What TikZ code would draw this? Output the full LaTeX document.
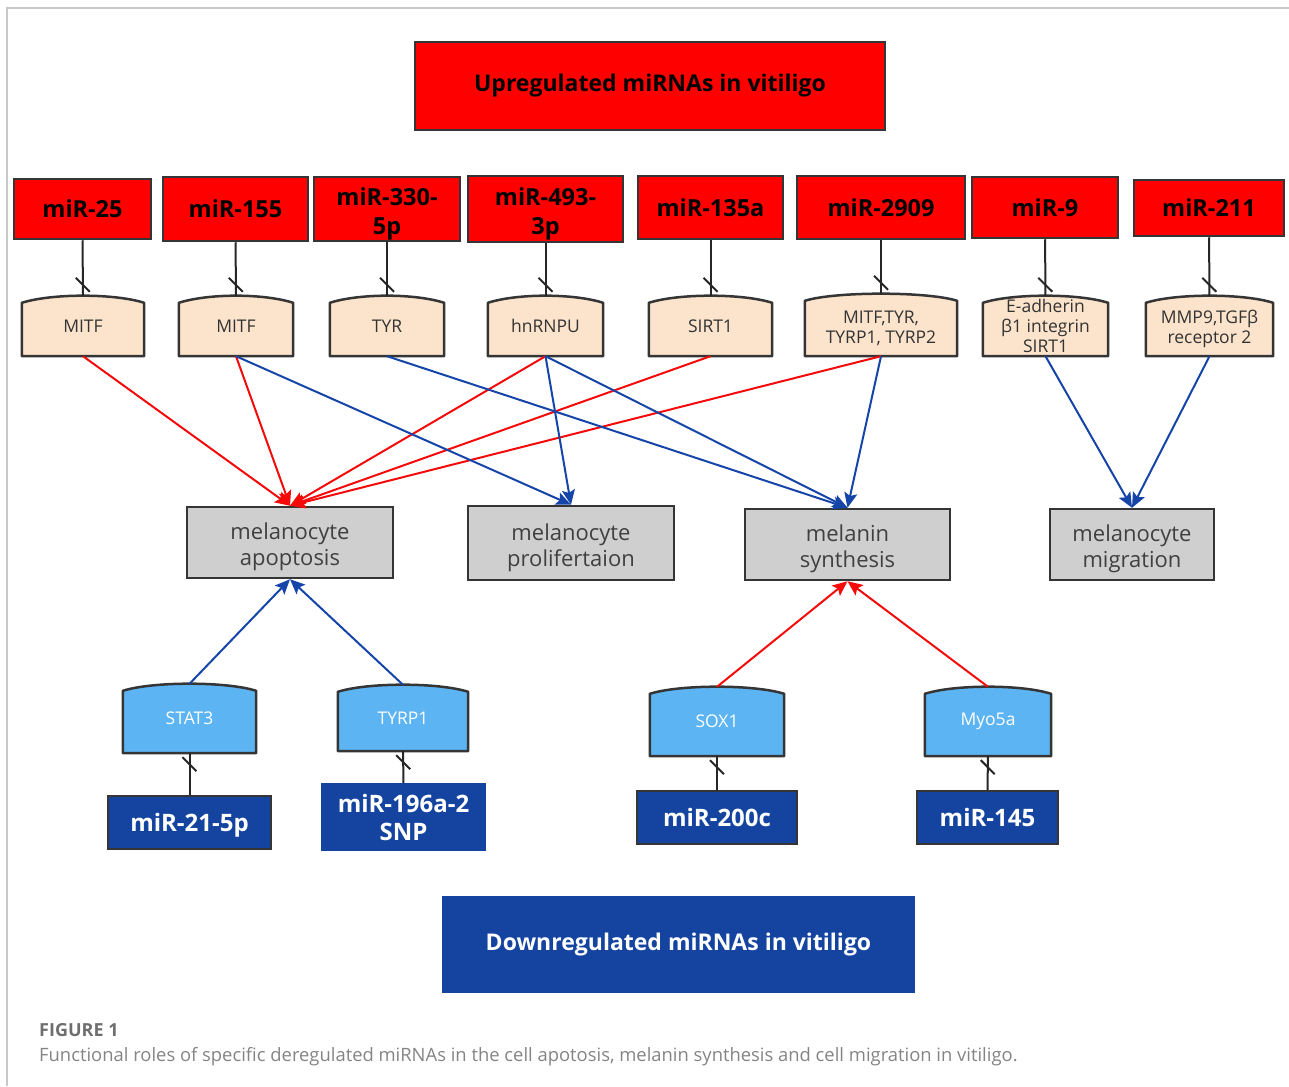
\documentclass[tikz,border=0pt]{standalone}
\usepackage{fontspec}
\setmainfont{Open Sans}
\usetikzlibrary{arrows.meta,backgrounds,calc,decorations.markings}

\definecolor{upred}{HTML}{FF0000}
\definecolor{arrred}{HTML}{F50A0A}
\definecolor{arrblue}{HTML}{1545A8}
\definecolor{downblue}{HTML}{1444A0}
\definecolor{lightblue}{HTML}{5DB4F2}
\definecolor{targetfill}{HTML}{FCE4CC}
\definecolor{effectfill}{HTML}{CFCFCF}
\definecolor{boxline}{HTML}{353535}
\definecolor{framegray}{HTML}{C8C8C8}
\definecolor{captiongray}{HTML}{6E6E6E}

\begin{document}
\begin{tikzpicture}[x=1pt, y=-1pt,
    every node/.style={inner sep=0pt, align=center},
    headup/.style={draw=boxline, line width=2.5pt, fill=upred, font=\fontsize{23}{27}\selectfont\bfseries},
    headdown/.style={draw=downblue, line width=2.5pt, fill=downblue, text=white, font=\fontsize{23}{27}\selectfont\bfseries},
    mirup/.style={draw=boxline, line width=2.5pt, fill=upred, font=\fontsize{23.5}{29}\selectfont\bfseries},
    mirdown/.style={draw=boxline, line width=2.5pt, fill=downblue, text=white, font=\fontsize{24}{28}\selectfont\bfseries},
    target/.style={text=black!80, font=\fontsize{17.5}{20}\selectfont},
    blueTarget/.style={text=white, font=\fontsize{17.5}{20}\selectfont},
    effect/.style={draw=boxline, line width=2.5pt, fill=effectfill, text=black!75, font=\fontsize{22}{26}\selectfont},
    outline/.style={draw=boxline, line width=2.5pt, line join=round},
    inhib/.style={draw=black!85, line width=2pt, postaction={decorate},
        decoration={markings, mark=at position -11pt with {\draw[black!85, line width=2pt] (-7pt,-7pt) -- (7pt,7pt);}}},
    act/.style={line width=2pt, -{Stealth[length=15pt, width=13pt, inset=3pt]}},
]
    \useasboundingbox (0,0) rectangle (1289,1086);
    \draw[framegray, line width=1.5pt] (7,1086) -- (7,8) -- (1289,8);

    % headers
    \node[headup, minimum width=470, minimum height=88] (up) at (650,86) {Upregulated miRNAs in vitiligo};
    \node[headdown, minimum width=471, minimum height=95] (down) at (678.5,944.5) {Downregulated miRNAs in vitiligo};

    % upregulated miRNAs
    \node[mirup, minimum width=137, minimum height=60] (mir25) at (82.5,209) {miR-25};
    \node[mirup, minimum width=145, minimum height=64] (mir155) at (235.5,209) {miR-155};
    \node[mirup, minimum width=146, minimum height=64] (mir330) at (387,209) {\rule{0pt}{27pt}miR-330-\\5p};
    \node[mirup, minimum width=155, minimum height=66] (mir493) at (545.5,209) {\rule{0pt}{27pt}miR-493-\\3p};
    \node[mirup, minimum width=145, minimum height=63] (mir135) at (710.5,207.5) {miR-135a};
    \node[mirup, minimum width=168, minimum height=63] (mir2909) at (881,207.5) {miR-2909};
    \node[mirup, minimum width=146, minimum height=61] (mir9) at (1045,207.5) {miR-9};
    \node[mirup, minimum width=150, minimum height=56] (mir211) at (1209,208) {miR-211};

    % targets of upregulated miRNAs
    \node[target, minimum width=122, minimum height=60] (mitfa) at (83,326) {MITF};
    \node[target, minimum width=114, minimum height=60] (mitfb) at (236,326) {MITF};
    \node[target, minimum width=114, minimum height=60] (tyr) at (387,326) {TYR};
    \node[target, minimum width=115, minimum height=60] (hnrnpu) at (545.5,326) {hnRNPU};
    \node[target, minimum width=123, minimum height=60] (sirt) at (710.5,326) {SIRT1};
    \node[target, minimum width=152, minimum height=62] (mitfmix) at (881,325) {\rule{0pt}{20pt}MITF,TYR,\\TYRP1, TYRP2};
    \node[target, minimum width=125, minimum height=60] (ecad) at (1045.5,326) {E-adherin\\β1 integrin\\SIRT1};
    \node[target, minimum width=127, minimum height=60] (mmp) at (1209.5,326) {\rule{0pt}{20pt}MMP9,TGFβ\\receptor 2};

    % cell effects
    \node[effect, minimum width=206, minimum height=71] (apop) at (290,542.5) {\rule{0pt}{26pt}melanocyte\\apoptosis};
    \node[effect, minimum width=206, minimum height=74] (prolif) at (571,543) {\rule{0pt}{26pt}melanocyte\\prolifertaion};
    \node[effect, minimum width=205, minimum height=71] (synth) at (847.5,544.5) {\rule{0pt}{26pt}melanin\\synthesis};
    \node[effect, minimum width=164, minimum height=71] (migr) at (1132,544.5) {\rule{0pt}{26pt}melanocyte\\migration};

    % targets of downregulated miRNAs
    \node[blueTarget, minimum width=133, minimum height=69] (stat3) at (189.5,718.5) {STAT3};
    \node[blueTarget, minimum width=130, minimum height=66] (tyrp1) at (403,718) {TYRP1};
    \node[blueTarget, minimum width=134, minimum height=69] (sox1) at (717,721.5) {SOX1};
    \node[blueTarget, minimum width=126, minimum height=69] (myo) at (988,721.5) {Myo5a};

    % downregulated miRNAs
    \node[mirdown, minimum width=163, minimum height=53] (mir21) at (189.5,822.5) {\rule{0pt}{24pt}miR-21-5p};
    \node[mirdown, draw=downblue, minimum width=163, minimum height=66] (mir196) at (403.5,817) {miR-196a-2\\SNP};
    \node[mirdown, minimum width=160, minimum height=53] (mir200) at (717,817.5) {miR-200c};
    \node[mirdown, minimum width=141, minimum height=53] (mir145) at (987.5,817.5) {miR-145};

    % curved-top boxes
    \begin{scope}[on background layer]
        \foreach \n in {mitfa,mitfb,tyr,hnrnpu,sirt,mitfmix,ecad,mmp}
            \draw[outline, fill=targetfill] (\n.south west) -- ($(\n.north west)+(0,7)$)
                .. controls +(30,-9.5) and +(-30,-9.5) .. ($(\n.north east)+(0,7)$) -- (\n.south east) -- cycle;
        \foreach \n in {stat3,tyrp1,sox1,myo}
            \draw[outline, fill=lightblue] (\n.south west) -- ($(\n.north west)+(0,7)$)
                .. controls +(30,-9.5) and +(-30,-9.5) .. ($(\n.north east)+(0,7)$) -- (\n.south east) -- cycle;
    \end{scope}

    % inhibition
    \draw[inhib] (mir25) -- (mitfa);
    \draw[inhib] (mir155) -- (mitfb);
    \draw[inhib] (mir330) -- (tyr);
    \draw[inhib] (mir493) -- (hnrnpu);
    \draw[inhib] (mir135) -- (sirt);
    \draw[inhib] (mir2909) -- (mitfmix);
    \draw[inhib] (mir9) -- (ecad);
    \draw[inhib] (mir211) -- (mmp);
    \draw[inhib] (mir21) -- (stat3);
    \draw[inhib] (mir196) -- (tyrp1);
    \draw[inhib] (mir200) -- (sox1);
    \draw[inhib] (mir145) -- (myo);

    % effects
    \draw[act, arrred] (mitfa.south) -- (apop.north);
    \draw[act, arrred] (mitfb.south) -- (apop.north);
    \draw[act, arrred] (hnrnpu.south) -- (apop.north);
    \draw[act, arrred] (sirt.south) -- (apop.north);
    \draw[act, arrred] (mitfmix.south) -- (apop.north);
    \draw[act, arrblue] (mitfb.south) -- (prolif.north);
    \draw[act, arrblue] (hnrnpu.south) -- (prolif.north);
    \draw[act, arrblue] (tyr.south) -- (synth.north);
    \draw[act, arrblue] (hnrnpu.south) -- (synth.north);
    \draw[act, arrblue] (mitfmix.south) -- (synth.north);
    \draw[act, arrblue] (ecad.south) -- (migr.north);
    \draw[act, arrblue] (mmp.south) -- (migr.north);
    \draw[act, arrblue] (stat3.north) -- (apop.south);
    \draw[act, arrblue] (tyrp1.north) -- (apop.south);
    \draw[act, arrred] (sox1.north) -- (synth.south);
    \draw[act, arrred] (myo.north) -- (synth.south);

    % caption
    \node[anchor=base west, text=captiongray, font=\fontsize{18}{21}\selectfont\bfseries] (figno) at (39,1036) {FIGURE 1};
    \node[anchor=base west, text=captiongray!85, font=\fontsize{18.4}{22}\selectfont] (caption) at (39,1061)
        {Functional roles of specific deregulated miRNAs in the cell apotosis, melanin synthesis and cell migration in vitiligo.};
\end{tikzpicture}
\end{document}
